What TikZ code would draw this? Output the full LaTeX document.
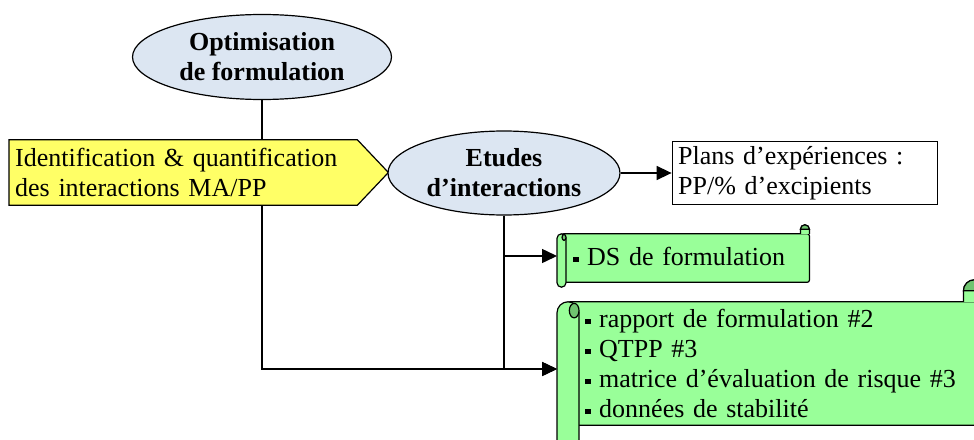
\documentclass[tikz,border=0pt]{standalone}
\usepackage{fontspec}
\setmainfont{Liberation Serif}
\usetikzlibrary{shapes.geometric, arrows.meta, positioning, calc, backgrounds}
\definecolor{PaleBlue}{RGB}{220, 230, 242}
\definecolor{NoteYellow}{RGB}{255, 255, 102}
\definecolor{ScrollGreen}{RGB}{153, 255, 153}
\definecolor{ScrollDark}{RGB}{112, 196, 112}

\newcommand{\sqbullet}{\raisebox{3pt}{\rule{5.5pt}{5.5pt}}\hspace{8.5pt}}
% scroll outline drawn round a node: #1 node, #2 roll size, #3 body bottom inset
\newcommand{\scrollshape}[3]{%
  \pgfmathsetmacro{\rc}{#2}\pgfmathsetmacro{\rh}{#2/2}%
  \pgfmathsetmacro{\rq}{#2*0.22}\pgfmathsetmacro{\ry}{#2*0.33}%
  \begin{scope}[on background layer]
    \coordinate (sNW) at (#1.north west);
    \coordinate (sSE) at (#1.south east);
    \draw[scrollbody, rounded corners=2pt] ($(sNW)+(\rh,-\rc)$) rectangle ($(sSE)+(0,#3)$);
    \draw[scrollbody] ($(sNW -| sSE)+(-\rc,-\rc)$) -- ++(0,\rh) arc[start angle=180, end angle=0, radius=\rh] -- ++(0,-\rh);
    \draw[scrollbody, fill=ScrollDark] ($(sNW -| sSE)+(-\rc,-\rh)$) arc[start angle=180, end angle=0, radius=\rh] -- cycle;
    \draw[scrollbody, rounded corners=\rh pt] ($(sNW)+(0,-\rc)$) rectangle ($(sSE -| sNW)+(\rc,0)$);
    \draw[scrollbody, fill=ScrollDark] ($(sNW)+(0.78*\rc,-1.4*\rc)$) ellipse[x radius=\rq, y radius=\ry];
  \end{scope}}

\begin{document}
\begin{tikzpicture}[
    x=1pt, y=1pt,
    node distance=51pt,
    every node/.style={font=\fontsize{26}{30}\selectfont},
    bubble/.style={ellipse, draw=black, fill=PaleBlue, line width=1.2pt, inner sep=0pt, align=center, font=\fontsize{26}{30}\selectfont\bfseries},
    tag/.style={rectangle, inner xsep=6pt, inner ysep=0pt, minimum height=65pt, text width=336pt, align=left},
    tagshape/.style={draw=black, fill=NoteYellow, line width=1.2pt},
    card/.style={rectangle, draw=black, fill=white, line width=1.2pt, inner xsep=6pt, minimum height=63pt, text width=253pt, align=left},
    scroll/.style={rectangle, inner ysep=0pt, align=left},
    scrollbody/.style={draw=black, fill=ScrollGreen, line width=1.2pt},
    link/.style={draw=black, line width=1.5pt},
    arrow/.style={link, -{Triangle[length=15pt, width=14pt]}}
  ]
    \useasboundingbox (0,0) rectangle (974,-439);

    % Goal
    \node[bubble, minimum width=259pt, minimum height=85pt] (opt) at (262,-57) {Optimisation\\de formulation};

    % Input
    \node[tag, anchor=west] (ident) at (9,-172.5) {Identification \& quantification\\des interactions MA/PP};
    \begin{scope}[on background layer]
      \draw[tagshape] (ident.north west) -- (ident.north east) -- ($(ident.east)+(31,0)$) -- (ident.south east) -- (ident.south west) -- cycle;
    \end{scope}

    % Studies
    \node[bubble, minimum width=232pt, minimum height=84pt] (inter) at (504,-173) {Etudes\\d’interactions};
    \node[card, right=of inter] (plans) {Plans d’expériences :\\PP/\% d’excipients};

    % Deliverables
    \node[scroll, minimum width=252pt, minimum height=62pt, inner xsep=16pt, text width=220pt, anchor=west] (ds) at (557,-256) {\sqbullet DS de formulation};
    \scrollshape{ds}{9}{5}
    \node[scroll, minimum width=428pt, minimum height=178pt, inner xsep=28pt, text width=372pt, anchor=west] (rep) at (557,-369)
      {\sqbullet rapport de formulation \#2\\
       \sqbullet QTPP \#3\\
       \sqbullet matrice d’évaluation de risque \#3\\
       \sqbullet données de stabilité\rule[-12pt]{0pt}{12pt}};
    \scrollshape{rep}{22}{33}

    % Connections
    \draw[link] (opt) -- (opt |- ident.north);
    \draw[arrow] (opt |- ident.south) |- (rep.west);
    \draw[arrow] (inter) -- (plans);
    \draw[arrow] (inter) |- (ds.west);
    \draw[arrow] (inter) |- (rep.west);
  \end{tikzpicture}
\end{document}
